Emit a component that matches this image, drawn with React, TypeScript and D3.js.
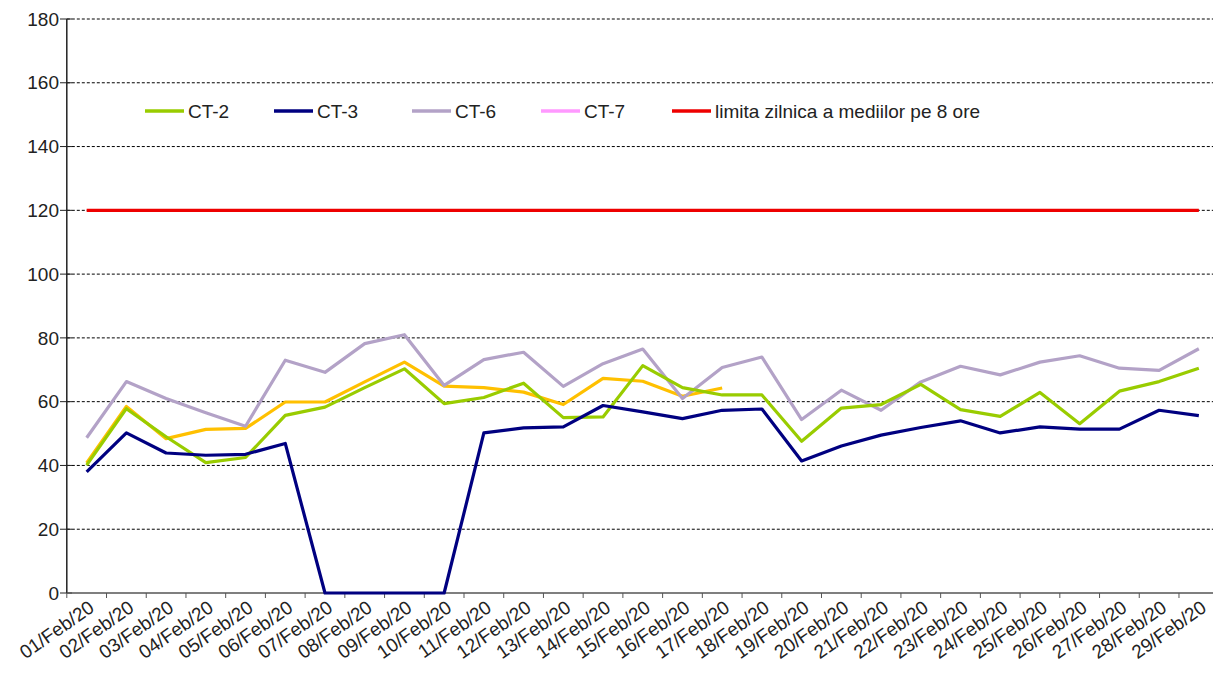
import React from 'react';
import * as d3 from 'd3';

const dates = [
  '01/Feb/20', '02/Feb/20', '03/Feb/20', '04/Feb/20', '05/Feb/20', '06/Feb/20', '07/Feb/20',
  '08/Feb/20', '09/Feb/20', '10/Feb/20', '11/Feb/20', '12/Feb/20', '13/Feb/20', '14/Feb/20',
  '15/Feb/20', '16/Feb/20', '17/Feb/20', '18/Feb/20', '19/Feb/20', '20/Feb/20', '21/Feb/20',
  '22/Feb/20', '23/Feb/20', '24/Feb/20', '25/Feb/20', '26/Feb/20', '27/Feb/20', '28/Feb/20',
  '29/Feb/20',
];

const ct2 = [40.1, 57.8, 49, 40.9, 42.5, 55.7, 58.3, 64.4, 70.3, 59.4, 61.3, 65.8, 55, 55.2,
  71.3, 64.4, 62.1, 62.1, 47.6, 58, 59.1, 65.4, 57.5, 55.4, 62.9, 53.1, 63.3, 66.3, 70.5];
const ct3 = [38, 50.2, 43.9, 43.2, 43.5, 46.9, 0, 0, 0, 0, 50.2, 51.8, 52.1, 58.8,
  56.8, 54.7, 57.3, 57.7, 41.4, 46.1, 49.5, 51.9, 54, 50.2, 52.1, 51.4, 51.4, 57.3, 55.6];
const ct6 = [48.7, 66.3, 61, 56.5, 52.3, 73, 69.2, 78.2, 81, 65.1, 73.2, 75.5, 64.8, 71.9,
  76.5, 61, 70.7, 74, 54.4, 63.6, 57.3, 66.2, 71.1, 68.4, 72.4, 74.4, 70.5, 69.8, 76.6];
// unlabeled yellow series, stops at 17/Feb
const ctYellow = [40.8, 58.5, 48.4, 51.3, 51.6, 59.9, 59.9, 66.2, 72.4, 64.9, 64.4, 63, 59.1, 67.3,
  66.4, 61.7, 64.3];
const ct7: number[] = [];
const limit = dates.map(() => 120);

const yTicks = [0, 20, 40, 60, 80, 100, 120, 140, 160, 180];

const series = [
  { name: 'CT-2', values: ct2, color: '#99CC00' },
  { name: 'CT-3', values: ct3, color: '#000080' },
  { name: 'CT-6', values: ct6, color: '#B3A2C7' },
  { name: 'CT-7', values: ct7, color: '#FF99FF' },
  { name: 'limita zilnica a mediilor pe 8 ore', values: limit, color: '#EE0000' },
];

const font = '"Liberation Sans", Arial, sans-serif';

export default function App() {
  const W = 1213, H = 673;
  const x = d3.scaleBand<string>().domain(dates).range([66.8, 1218.7]).padding(0);
  const y = d3.scaleLinear().domain([0, 180]).range([593, 19]);
  const cx = (i: number) => (x(dates[i]) as number) + x.bandwidth() / 2;

  const line = d3.line<number>().x((_, i) => cx(i)).y(d => y(d));

  const drawn = [
    { values: ctYellow, color: '#FFC000' },
    { values: ct6, color: '#B3A2C7' },
    { values: ct2, color: '#99CC00' },
    { values: ct3, color: '#000080' },
    { values: limit, color: '#EE0000' },
  ];

  const legendX = [145, 274, 412, 541, 672];

  return (
    <svg width={W} height={H} style={{ position: 'absolute', left: 0, top: 0, background: '#fff' }}
      fontFamily={font}>
      {/* gridlines */}
      {yTicks.filter(t => t > 0).map(t => (
        <line key={'g' + t} x1={66.8} x2={W} y1={y(t)} y2={y(t)}
          stroke="#000" strokeWidth={1} strokeDasharray="3,2" />
      ))}
      {/* y axis */}
      <line x1={66.8} x2={66.8} y1={y(180)} y2={y(0)} stroke="#222" strokeWidth={1.5} />
      {yTicks.map(t => (
        <g key={'y' + t}>
          <line x1={60} x2={72} y1={y(t)} y2={y(t)} stroke="#222" strokeWidth={1} />
          <text x={59} y={y(t)} dy="0.35em" textAnchor="end" fontSize={19} fill="#222">{t}</text>
        </g>
      ))}
      {/* x axis */}
      <line x1={66.8} x2={W} y1={y(0)} y2={y(0)} stroke="#555" strokeWidth={1.5} />
      {dates.map((d, i) => (
        <line key={'xt' + i} x1={x(d) as number} x2={x(d) as number} y1={y(0)} y2={y(0) + 5}
          stroke="#555" strokeWidth={1} />
      ))}
      {dates.map((d, i) => (
        <text key={'xl' + i} transform={`translate(${cx(i) + 5},${y(0) + 12}) rotate(-35)`}
          textAnchor="end" dy="0.35em" fontSize={19} fill="#222">{d}</text>
      ))}
      {/* lines */}
      {drawn.map((s, k) => (
        <path key={'l' + k} d={line(s.values) || ''} fill="none" stroke={s.color}
          strokeWidth={3.2} strokeLinejoin="round" />
      ))}
      {/* legend */}
      {series.map((s, i) => (
        <g key={'lg' + i}>
          <line x1={legendX[i]} x2={legendX[i] + 39} y1={111} y2={111} stroke={s.color} strokeWidth={3.5} />
          <text x={legendX[i] + 43} y={111} dy="0.35em" fontSize={19} fill="#222">{s.name}</text>
        </g>
      ))}
    </svg>
  );
}
